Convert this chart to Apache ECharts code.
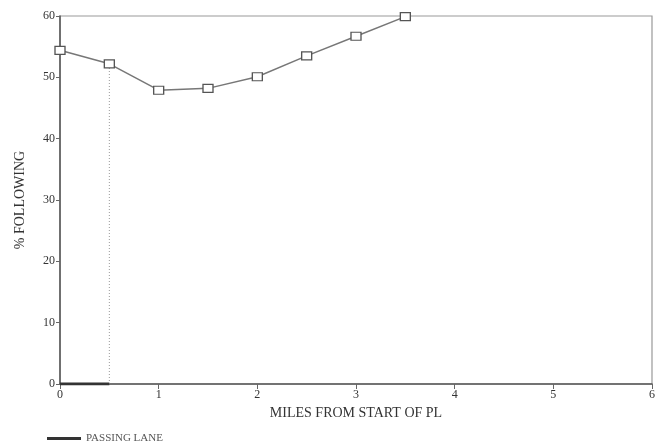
<!DOCTYPE html>
<html>
<head>
<meta charset="utf-8">
<script src="https://cdn.jsdelivr.net/npm/echarts@6/dist/echarts.min.js"></script>
<style>html,body{margin:0;padding:0;background:#fff;}#c{width:667px;height:447px;}</style>
</head>
<body>
<div id="c"></div>
<script>
var miles = [0, 0.5, 1, 1.5, 2, 2.5, 3, 3.5];
var following = [54.4, 52.2, 47.9, 48.2, 50.1, 53.5, 56.7, 59.9];
var laneStart = 0;
var laneEnd = 0.5;
var xTicks = [0, 1, 2, 3, 4, 5, 6];
var yTicks = [0, 10, 20, 30, 40, 50, 60];

var font = 'Liberation Serif';
var chart = echarts.init(document.getElementById('c'));
var laneTop = following[miles.indexOf(laneEnd)];
chart.setOption({
  animation: false,
  backgroundColor: '#fff',
  grid: { left: 60, right: 15, top: 16, bottom: 63, show: true, borderColor: '#999', borderWidth: 1.2, backgroundColor: 'transparent' },
  legend: {
    left: 42, bottom: -2, orient: 'horizontal',
    data: [{ name: 'PASSING LANE', icon: 'rect' }],
    itemWidth: 34, itemHeight: 3, itemGap: 10,
    textStyle: { fontFamily: font, fontSize: 11, color: '#555' }
  },
  xAxis: {
    type: 'value', min: xTicks[0], max: xTicks[xTicks.length - 1], interval: 1,
    name: 'MILES FROM START OF PL', nameLocation: 'middle', nameGap: 20,
    nameTextStyle: { fontFamily: font, fontSize: 14, color: '#333' },
    axisLine: { show: true, onZero: false, lineStyle: { color: '#555', width: 1.5 } },
    axisTick: { show: true, inside: false, length: 5, lineStyle: { color: '#666' } },
    axisLabel: { fontFamily: font, fontSize: 12, color: '#333', margin: 5 },
    splitLine: { show: false }
  },
  yAxis: {
    type: 'value', min: yTicks[0], max: yTicks[yTicks.length - 1], interval: 10,
    name: '% FOLLOWING', nameLocation: 'middle', nameGap: 33,
    nameTextStyle: { fontFamily: font, fontSize: 14, color: '#333' },
    axisLine: { show: true, onZero: false, lineStyle: { color: '#555', width: 1.5 } },
    axisTick: { show: true, length: 4, lineStyle: { color: '#666' } },
    axisLabel: { fontFamily: font, fontSize: 12, color: '#333', margin: 5 },
    splitLine: { show: false }
  },
  series: [
    {
      name: 'divider', type: 'line', silent: true,
      data: [[laneEnd, 0], [laneEnd, laneTop]],
      symbol: 'none',
      lineStyle: { color: '#999', width: 1, type: [1, 2] },
      z: 1
    },
    {
      name: 'PASSING LANE', type: 'line', silent: true,
      data: [[laneStart, 0], [laneEnd, 0]],
      symbol: 'none',
      itemStyle: { color: '#333' },
      lineStyle: { color: '#333', width: 3 },
      z: 4
    },
    {
      name: 'following', type: 'line',
      data: miles.map(function (m, i) { return [m, following[i]]; }),
      symbol: 'rect', symbolSize: [10, 8],
      itemStyle: { color: '#fff', borderColor: '#555', borderWidth: 1.2 },
      lineStyle: { color: '#777', width: 1.5 },
      z: 3, clip: false
    }
  ]
});
</script>
</body>
</html>
